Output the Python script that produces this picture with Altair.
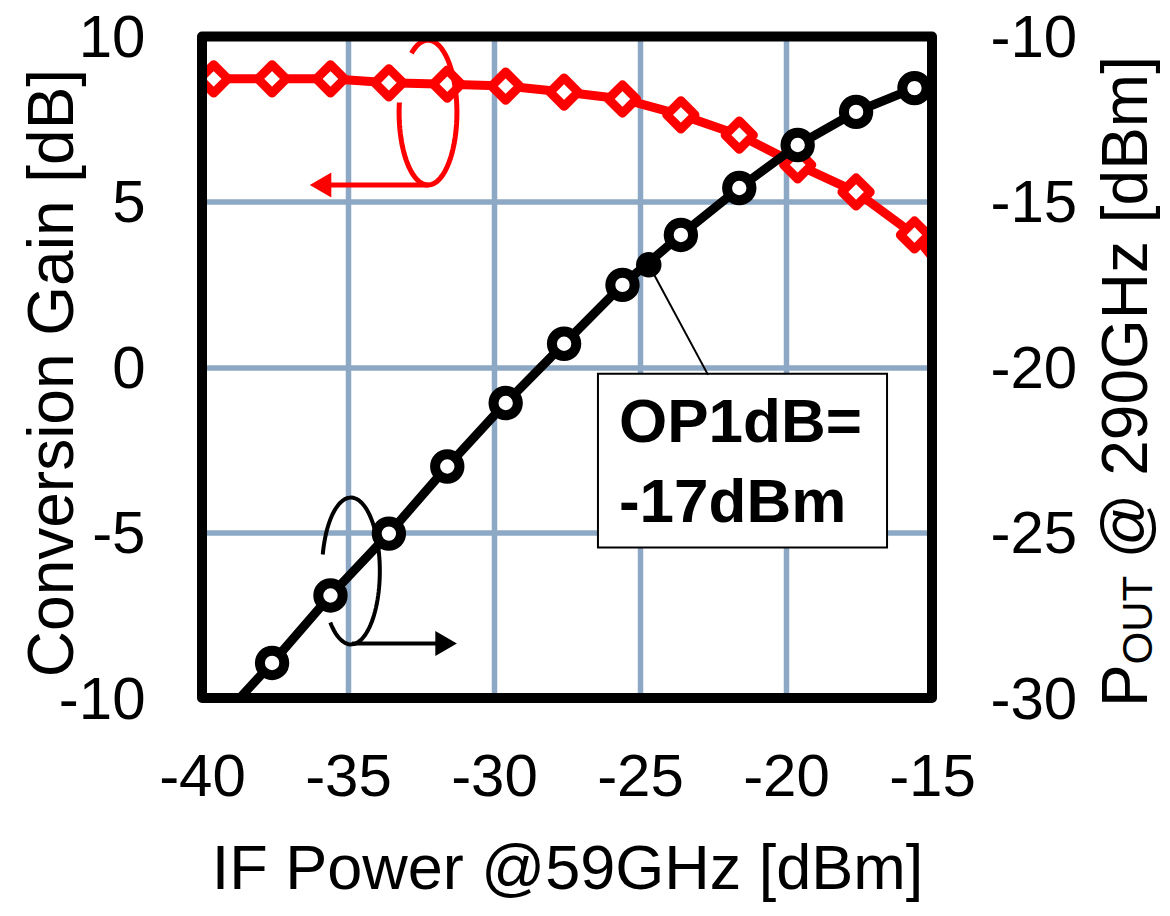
import altair as alt
import pandas as pd
import numpy as np

# ---------------- data ----------------
if_power = [-39.6, -37.6, -35.6, -33.6, -31.6, -29.6, -27.6, -25.6, -23.6, -21.6, -19.6, -17.6, -15.6]
gain_db = [8.72, 8.72, 8.72, 8.60, 8.56, 8.50, 8.32, 8.11, 7.63, 7.02, 6.12, 5.30, 4.00]
# the red trace continues past the right frame (clipped)
gain_extra_x = [-13.6]
gain_extra_y = [1.8]

pout_x = [-37.6, -35.6, -33.6, -31.6, -29.6, -27.6, -25.6, -23.6, -21.6, -19.6, -17.6, -15.6]
pout_dbm = [-28.94, -26.90, -25.03, -23.00, -21.08, -19.29, -17.51, -16.00, -14.58, -13.28, -12.28, -11.56]
# the black trace comes in from below the frame (clipped)
pout_extra_x = [-39.6]
pout_extra_y = [-30.86]

op1db_x = [-24.7]
op1db_y = [-16.9]

x_ticks = [-40, -35, -30, -25, -20, -15]
gain_ticks = [-10, -5, 0, 5, 10]
pout_ticks = [-30, -25, -20, -15, -10]

FONT = "Liberation Sans"
GRID = "#8CA8C4"
W, H = 730, 661.5

# ---------------- dataframes ----------------
gain_line = pd.DataFrame({"x": if_power + gain_extra_x, "g": gain_db + gain_extra_y})
gain_pts = pd.DataFrame({"x": if_power, "g": gain_db})
pout_line = pd.DataFrame({"x": pout_extra_x + pout_x, "p": pout_extra_y + pout_dbm})
pout_pts = pd.DataFrame({"x": pout_x, "p": pout_dbm})
op_pt = pd.DataFrame({"x": op1db_x, "p": op1db_y})

x_scale = alt.Scale(domain=[-40, -15], nice=False, zero=False)
g_scale = alt.Scale(domain=[-10, 10], nice=False, zero=False)
p_scale = alt.Scale(domain=[-30, -10], nice=False, zero=False)

x_axis = alt.Axis(
    values=x_ticks, title="IF Power @59GHz [dBm]", labelExpr="datum.value + ''",
    labelFont=FONT, labelFontSize=60, labelColor="black", labelPadding=97,
    labelBaseline="alphabetic", labelFlush=False, labelOverlap=False,
    ticks=False, domain=False, grid=True, gridColor=GRID, gridWidth=5.5, gridOpacity=1,
    titleFont=FONT, titleFontSize=63, titleFontWeight="normal", titleColor="black",
    titleX=W / 2, titleY=190, titleAlign="center", titleBaseline="alphabetic",
)
g_axis = alt.Axis(
    values=gain_ticks, orient="left", title="Conversion Gain [dB]", labelExpr="datum.value + ''",
    labelFont=FONT, labelFontSize=60, labelColor="black", labelPadding=57, labelOffset=2,
    labelAlign="right", labelBaseline="middle", labelFlush=False, labelOverlap=False,
    ticks=False, domain=False, grid=True, gridColor=GRID, gridWidth=5.5, gridOpacity=1,
    titleFont=FONT, titleFontSize=64, titleFontWeight="normal", titleColor="black",
    titleX=-130, titleY=336, titleAngle=270, titleAlign="center", titleBaseline="alphabetic",
)
p_axis = alt.Axis(
    values=pout_ticks, orient="right", title=None, labelExpr="datum.value + ''",
    labelFont=FONT, labelFontSize=60, labelColor="black", labelPadding=58, labelOffset=2,
    labelAlign="left", labelBaseline="middle", labelFlush=False, labelOverlap=False,
    ticks=False, domain=False, grid=False,
)


def X(field="x"):
    return alt.X(f"{field}:Q", scale=x_scale, axis=x_axis)


def G(field="g"):
    return alt.Y(f"{field}:Q", scale=g_scale, axis=g_axis)


def P(field="p"):
    return alt.Y(f"{field}:Q", scale=p_scale, axis=p_axis)


# ---------------- gain (left axis) group ----------------
red_line = alt.Chart(gain_line).mark_line(color="#FF0000", strokeWidth=9, clip=True).encode(x=X(), y=G())
red_pts = alt.Chart(gain_pts).mark_point(
    shape="diamond", size=800, filled=True, fill="white", stroke="#FF0000",
    strokeWidth=9, strokeJoin="round", opacity=1, clip=True,
).encode(x=X(), y=G())

# annotation: open ellipses with arrows (centre / radii in data units)
def ellipse(cx, cy, rx, ry, a0, a1, n=90):
    t = np.radians(np.linspace(a0, a1, n))
    return pd.DataFrame({"x": cx + rx * np.cos(t), "g": cy - ry * np.sin(t), "i": np.arange(n)})

red_ell = alt.Chart(ellipse(-32.26, 7.70, 0.99, 2.19, 235, 548)).mark_line(
    color="#FF0000", strokeWidth=5).encode(x=X(), y=G(), order="i:Q")
blk_ell = alt.Chart(ellipse(-34.90, -6.16, 0.99, 2.22, 193, 495.5)).mark_line(
    color="black", strokeWidth=4).encode(x=X(), y=G(), order="i:Q")

red_shaft = alt.Chart(pd.DataFrame({"x": [-32.26], "x2": [-35.6], "g": [5.51]})).mark_rule(
    color="#FF0000", strokeWidth=5).encode(x=X(), x2="x2:Q", y=G())
red_head = alt.Chart(pd.DataFrame({"x": [-35.94], "g": [5.51]})).mark_point(
    shape="triangle-left", size=620, filled=True, color="#FF0000", opacity=1).encode(x=X(), y=G())
blk_shaft = alt.Chart(pd.DataFrame({"x": [-34.86], "x2": [-31.9], "g": [-8.35]})).mark_rule(
    color="black", strokeWidth=4).encode(x=X(), x2="x2:Q", y=G())
blk_head = alt.Chart(pd.DataFrame({"x": [-31.64], "g": [-8.35]})).mark_point(
    shape="triangle-right", size=620, filled=True, color="black", opacity=1).encode(x=X(), y=G())

# OP1dB label box
box = alt.Chart(pd.DataFrame({"x": [-26.44], "x2": [-16.54], "g": [-0.2], "g2": [-5.45]})).mark_rect(
    fill="white", stroke="black", strokeWidth=2).encode(x=X(), x2="x2:Q", y=G(), y2="g2:Q")
box_text = alt.Chart(pd.DataFrame({"x": [-25.72, -25.72], "g": [-2.25, -4.67], "t": ["OP1dB=", "-17dBm"]})).mark_text(
    align="left", baseline="alphabetic", font=FONT, fontSize=62, fontWeight="bold", color="black"
).encode(x=X(), y=G(), text="t:N")

gain_group = alt.layer(red_line, red_pts, red_ell, red_shaft, red_head,
                       blk_ell, blk_shaft, blk_head, box, box_text)

# ---------------- output power (right axis) group ----------------
blk_line = alt.Chart(pout_line).mark_line(color="black", strokeWidth=9, clip=True).encode(x=X(), y=P())
blk_pts = alt.Chart(pout_pts).mark_point(
    shape="circle", size=594, filled=True, fill="white", stroke="black",
    strokeWidth=10, opacity=1, clip=True,
).encode(x=X(), y=P())
leader = alt.Chart(pd.DataFrame({"x": op1db_x, "x2": [-22.67], "p": op1db_y, "p2": [-20.23]})).mark_rule(
    color="black", strokeWidth=2).encode(x=X(), x2="x2:Q", y=P(), y2="p2:Q")
op_dot = alt.Chart(op_pt).mark_point(shape="circle", size=650, filled=True, color="black", opacity=1).encode(
    x=X(), y=P())

# right axis title with subscript
t_p = alt.Chart(pd.DataFrame({"t": ["P"]})).mark_text(
    angle=270, align="left", baseline="alphabetic", font=FONT, fontSize=64, color="black"
).encode(text="t:N", x=alt.value(945), y=alt.value(670.5))
t_sub = alt.Chart(pd.DataFrame({"t": ["OUT"]})).mark_text(
    angle=270, align="left", baseline="alphabetic", font=FONT, fontSize=42, color="black"
).encode(text="t:N", x=alt.value(950), y=alt.value(628))
t_rest = alt.Chart(pd.DataFrame({"t": ["@ 290GHz [dBm]"]})).mark_text(
    angle=270, align="left", baseline="alphabetic", font=FONT, fontSize=64, color="black"
).encode(text="t:N", x=alt.value(945), y=alt.value(522))

pout_group = alt.layer(leader, blk_line, blk_pts, op_dot, t_p, t_sub, t_rest)

# ---------------- frame on top ----------------
frame = alt.Chart(pd.DataFrame({"x": [-40], "x2": [-15], "f": [-10], "f2": [10]})).mark_rect(
    fillOpacity=0, stroke="black", strokeWidth=10, strokeJoin="round"
).encode(
    x=X(), x2="x2:Q",
    y=alt.Y("f:Q", scale=alt.Scale(domain=[-10, 10], nice=False, zero=False), axis=None),
    y2="f2:Q",
)

chart = alt.layer(gain_group, pout_group, frame).resolve_scale(y="independent").properties(
    width=W, height=H,
    padding={"left": 194, "top": 28.5, "right": 230, "bottom": 208},
    autosize=alt.AutoSizeParams(type="none"),
    background="white",
).configure_view(stroke=None)

chart.save("out.html", embed_options={"renderer": "svg", "actions": False})
